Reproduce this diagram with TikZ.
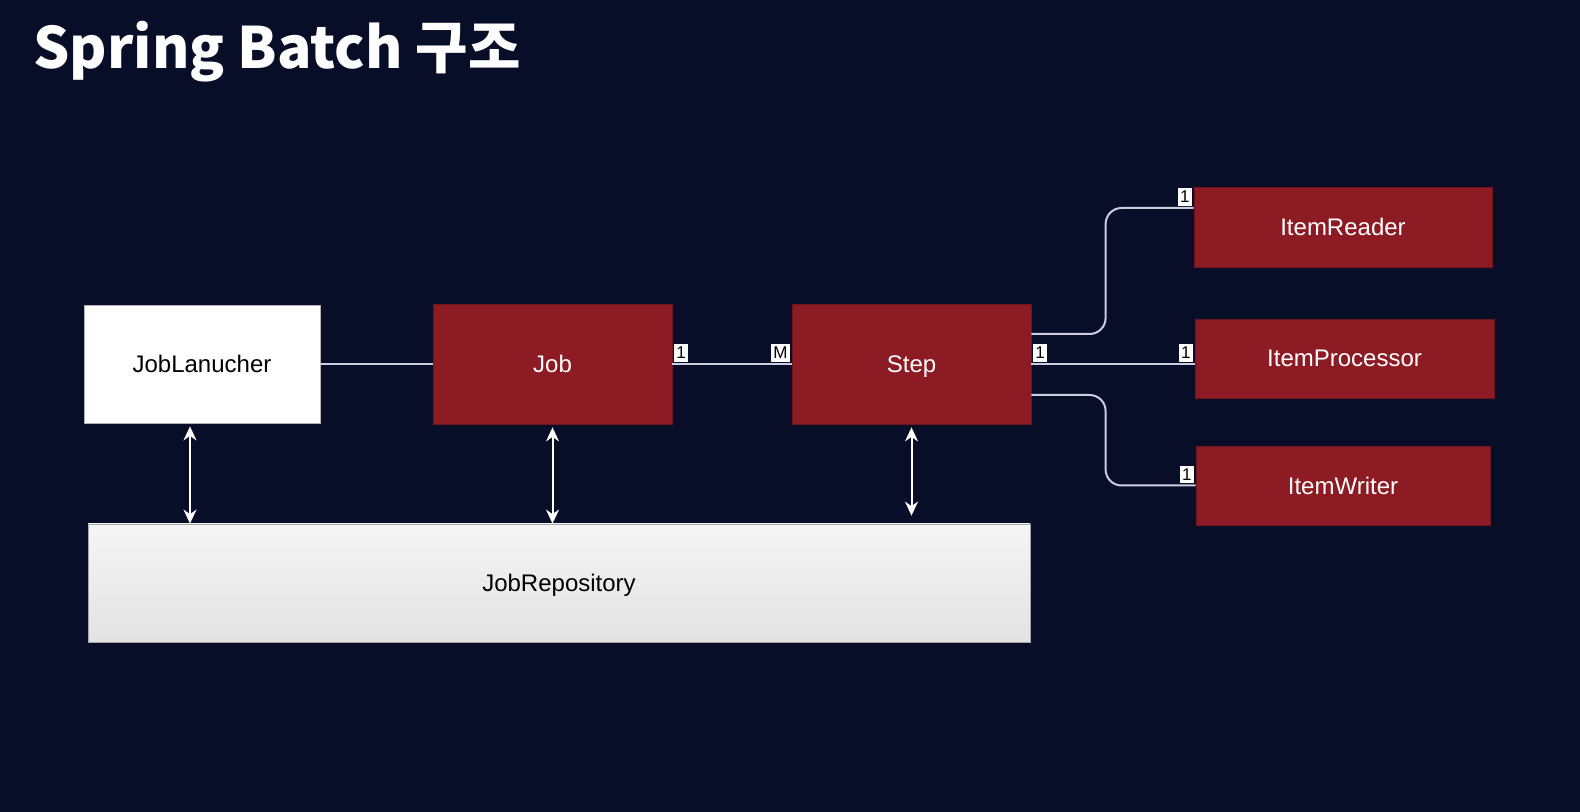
\documentclass[tikz,border=0pt]{standalone}
\usepackage{fontspec}
\setmainfont{Liberation Sans}
\newfontfamily\titlefont{Noto Sans CJK KR}
\usetikzlibrary{arrows.meta}

\definecolor{slidebg}{RGB}{9,14,40}
\definecolor{batchred}{RGB}{140,27,35}
\definecolor{batchredline}{RGB}{110,20,28}
\definecolor{linkgray}{RGB}{200,206,222}

\tikzset{
  redbox/.style={draw=batchredline, fill=batchred, text=white, font=\fontsize{12}{14}\selectfont, inner sep=0pt, text depth=0pt},
  whitebox/.style={draw=gray!60, fill=white, text=black, font=\fontsize{12}{14}\selectfont, inner sep=0pt, text depth=0pt},
  repobox/.style={draw=gray!70, top color=gray!8, bottom color=gray!22, text=black, font=\fontsize{12}{14}\selectfont, inner sep=0pt, text depth=0pt},
  link/.style={draw=linkgray, line width=1pt},
  dbl/.style={draw=white, line width=1pt, {Stealth[length=7pt,width=6.5pt]}-{Stealth[length=7pt,width=6.5pt]}},
  mult/.style={sharp corners, fill=white, text=black, font=\fontsize{8.5}{9}\selectfont, inner xsep=1pt, inner ysep=1.5pt, outer sep=1pt}
}

\begin{document}
\begin{tikzpicture}[x=0.5pt, y=-0.5pt]
      % background of the slide
      \fill[slidebg] (0,0) rectangle (1580,812);
      \useasboundingbox (0,0) rectangle (1580,812);

      % title
      \node[anchor=base west, text=white, inner sep=0pt, font=\titlefont\bfseries\fontsize{28.5}{32}\selectfont] (title) at (33,69) {Spring Batch 구조};

      % JobLanucher:
      %   starts a job
      \node[whitebox, minimum width=118pt, minimum height=59pt] (launcher) at (202,364) {JobLanucher};
      % Job:
      %   holds the steps
      \node[redbox, minimum width=119.5pt, minimum height=60pt] (job) at (552.5,364) {Job};
      % Step:
      %   reader, processor and writer
      \node[redbox, minimum width=119.5pt, minimum height=60pt] (step) at (911.5,364) {Step};
        \node[redbox, minimum width=149pt, minimum height=40pt] (reader) at (1343,227) {ItemReader};
        \node[redbox, minimum width=149.5pt, minimum height=39.5pt] (processor) at (1344.5,358.5) {ItemProcessor};
        \node[redbox, minimum width=147pt, minimum height=39.5pt] (writer) at (1343,485.5) {ItemWriter};
      % JobRepository:
      %   keeps the meta data
      \node[repobox, minimum width=471pt, minimum height=59pt] (repo) at (559,583) {JobRepository};

      \draw[link] (launcher) -- (job);
      \draw[link] (job) -- (step)
        node[mult, pos=0, above right] {1}
        node[mult, pos=1, above left] {M};

      \draw[link, rounded corners=8pt] ([yshift=15pt]step.east) -| ([xshift=-44pt,yshift=9.5pt]reader.west) -- ([yshift=9.5pt]reader.west)
        node[mult, above left] {1};
      \draw[link] (step.east) -- (step.east -| processor.west)
        node[mult, pos=0, above right] {1}
        node[mult, pos=1, above left] {1};
      \draw[link, rounded corners=8pt] ([yshift=-15.5pt]step.east) -| ([xshift=-45pt]writer.west) -- (writer.west)
        node[mult, above left] {1};

      \draw[dbl] ([xshift=-6pt,yshift=-1.5pt]launcher.south) -- ([xshift=-6pt]launcher.south |- repo.north);
      \draw[dbl] ([yshift=-1.5pt]job.south) -- (job.south |- repo.north);
      \draw[dbl] ([yshift=-1.5pt]step.south) -- ([yshift=4pt]step.south |- repo.north);
\end{tikzpicture}
\end{document}
